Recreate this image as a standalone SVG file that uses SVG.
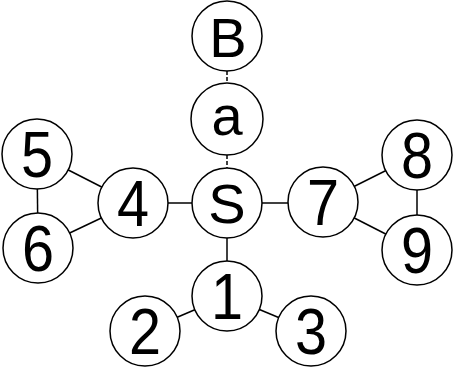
<svg xmlns="http://www.w3.org/2000/svg" width="453" height="368" viewBox="0 0 453 368">
<style>
.n circle{fill:#fff;stroke:#000;stroke-width:1.5}
.n text{font-family:"Liberation Sans",Arial,sans-serif;font-size:56px;text-anchor:middle;fill:#000}
.n text.g{font-size:64px}
.e line{stroke:#000;stroke-width:1.5}
.e line.d{stroke-dasharray:4 2}
</style>
<rect width="453" height="368" fill="#fff"/>
<g class="e" id="connectors">
<line class="d" x1="227" y1="71" x2="227" y2="83"/>
<line class="d" x1="227" y1="155" x2="227" y2="168"/>
<line x1="227" y1="203" x2="227" y2="296"/>
<line x1="133" y1="203" x2="323" y2="203"/>
<line x1="37" y1="154" x2="38" y2="248"/>
<line x1="37" y1="154" x2="133" y2="203"/>
<line x1="38" y1="248" x2="133" y2="203"/>
<line x1="417" y1="155" x2="417" y2="250"/>
<line x1="323" y1="202" x2="417" y2="155"/>
<line x1="323" y1="202" x2="417" y2="250"/>
<line x1="227" y1="296" x2="145" y2="331"/>
<line x1="227" y1="296" x2="311" y2="331"/>
</g>
<g class="n" id="nB"><circle cx="227" cy="36" r="35"/><text x="228" y="57" font-size="58">B</text></g>
<g class="n" id="na"><circle cx="227" cy="119" r="36"/><text x="227" y="135">a</text></g>
<g class="n" id="nS"><circle cx="227" cy="203" r="35"/><text x="227" y="223">S</text></g>
<g class="n" id="n4"><circle cx="133" cy="203" r="35"/><text class="g" transform="translate(133,203) scale(0.9,1)" y="23">4</text></g>
<g class="n" id="n5"><circle cx="37" cy="154" r="35"/><text class="g" transform="translate(37,154) scale(0.9,1)" y="23">5</text></g>
<g class="n" id="n6"><circle cx="38" cy="248" r="35"/><text class="g" transform="translate(38,248) scale(0.9,1)" y="23">6</text></g>
<g class="n" id="n7"><circle cx="323" cy="202" r="35"/><text class="g" transform="translate(323,202) scale(0.9,1)" y="23">7</text></g>
<g class="n" id="n8"><circle cx="417" cy="155" r="35"/><text class="g" transform="translate(417,155) scale(0.9,1)" y="23">8</text></g>
<g class="n" id="n9"><circle cx="417" cy="250" r="35"/><text class="g" transform="translate(417,250) scale(0.9,1)" y="23">9</text></g>
<g class="n" id="n1"><circle cx="227" cy="296" r="35"/><text class="g" transform="translate(227,296) scale(0.9,1)" y="23">1</text></g>
<g class="n" id="n2"><circle cx="145" cy="331" r="35"/><text class="g" transform="translate(145,331) scale(0.9,1)" y="23">2</text></g>
<g class="n" id="n3"><circle cx="311" cy="331" r="35"/><text class="g" transform="translate(311,331) scale(0.9,1)" y="23">3</text></g>
</svg>
